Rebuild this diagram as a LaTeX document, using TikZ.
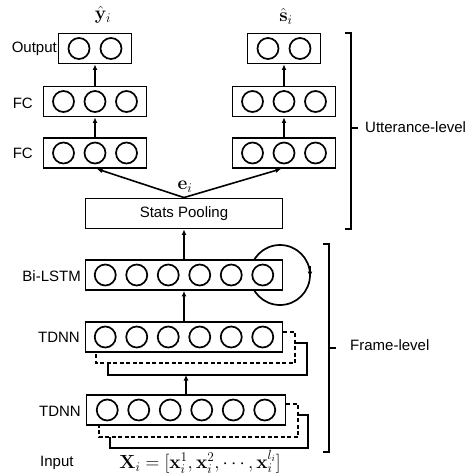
\RequirePackage{fix-cm}
\documentclass[tikz,border=0pt]{standalone}
\usepackage[no-math]{fontspec}
\newfontfamily\labfont{Liberation Sans}
\usetikzlibrary{arrows.meta,calc}
\begin{document}
\begin{tikzpicture}[x=1pt,y=-1pt,
  layer/.style={draw,fill=white,line width=1.9pt,minimum height=30pt,inner sep=0pt},
  neuron/.style={draw,circle,line width=1.7pt,minimum size=21pt,inner sep=0pt},
  arr/.style={line width=1.6pt,-{Latex[length=5.5pt,width=5pt]}},
  lab/.style={font=\labfont\fontsize{15}{18}\selectfont,inner sep=0pt},
  mlab/.style={font=\fontsize{19}{22}\selectfont,inner sep=0pt},
  brk/.style={line width=1.4pt},
  back/.style={line width=1.7pt},
  backd/.style={line width=1.7pt,dash pattern=on 4pt off 2.5pt}]
\useasboundingbox[fill=white] (0,0) rectangle (471,474);

% recurrent loop (drawn first, hidden by the box)
\coordinate (loopc) at (280,275);
\draw[back] (loopc) circle[radius=30pt];
\draw[arr] ($(loopc)+(30,-9)$) -- ($(loopc)+(30,2)$);

% back layers of the TDNN stacks
\draw[backd] (283,332) -- (295,332) -- (295,363) -- (96,363) -- (96,353);
\draw[back] (295,343) -- (307,343) -- (307,375) -- (108,375) -- (108,363);
\draw[backd] (286,404) -- (298,404) -- (298,437) -- (99,437) -- (99,426);
\draw[back] (298,415) -- (308,415) -- (308,448) -- (110,448) -- (110,437);
\coordinate (td1back) at (186,375);

% layers
\node[layer,minimum width=73pt] (outL) at (95,48.5) {};
\node[layer,minimum width=103pt] (fcL1) at (95,101.5) {};
\node[layer,minimum width=103pt] (fcL2) at (95,153) {};
\node[layer,minimum width=73pt] (outR) at (284,48.5) {};
\node[layer,minimum width=103pt] (fcR1) at (284,101.5) {};
\node[layer,minimum width=103pt] (fcR2) at (284,153) {};
\node[layer,minimum width=197pt,font=\labfont\fontsize{15}{18}\selectfont] (stats) at (184,213.5) {Stats Pooling};
\node[layer,minimum width=197pt] (lstm) at (184,275) {};
\node[layer,minimum width=197pt] (td1) at (184,337) {};
\node[layer,minimum width=199pt] (td2) at (186,410) {};

% neurons
\foreach \b in {outL,outR}
  \foreach \i in {1,2}
    \node[neuron] (\b-\i) at ($(\b.center)+({(\i-1.5)*32},0)$) {};
\foreach \b in {fcL1,fcL2,fcR1,fcR2}
  \foreach \i in {1,2,3}
    \node[neuron] (\b-\i) at ($(\b.center)+({(\i-2)*31.5},0)$) {};
\foreach \b in {lstm,td1,td2}
  \foreach \i in {1,...,6}
    \node[neuron] (\b-\i) at ($(\b.center)+({(\i-3.5)*31.5},0)$) {};

% connectors
\draw[arr] (fcL2.north) -- (fcL1.south);
\draw[arr] (fcL1.north) -- (outL.south);
\draw[arr] (fcR2.north) -- (fcR1.south);
\draw[arr] (fcR1.north) -- (outR.south);
\draw[arr] (stats.north) -- ($(fcL2.south)+(2,0)$);
\draw[arr] (stats.north) -- ($(fcR2.south)+(-3,0)$);
\draw[arr] (lstm.north) -- (stats.south);
\draw[arr] (td1.north) -- (lstm.south);
\draw[arr] (td2.north) -- (td2.north |- td1back);

% labels
\node[lab,anchor=east] (loutput) at (57,49) {Output};
\node[lab,anchor=east] (lfc1) at (33,103) {FC};
\node[lab,anchor=east] (lfc2) at (33,153) {FC};
\node[lab,anchor=east] (llstm) at (81,276) {Bi-LSTM};
\node[lab,anchor=east] (ltd1) at (80,337) {TDNN};
\node[lab,anchor=east] (ltd2) at (81,411) {TDNN};
\node[lab,anchor=west] (linput) at (40,463) {Input};
\node[mlab] (lx) at (200,462) {$\mathbf{X}_i=[\mathbf{x}_i^1,\mathbf{x}_i^2,\cdots,\mathbf{x}_i^{l_i}]$};
\node[mlab] (ly) at (103,15) {$\hat{\mathbf{y}}_i$};
\node[mlab] (ls) at (286,16) {$\hat{\mathbf{s}}_i$};
\node[mlab] (le) at (185,187) {$\mathbf{e}_i$};

% brackets
\draw[brk] (345,33) -- (351,33) -- (351,229) -- (345,229);
\draw[brk] (351,128) -- (358,128);
\node[lab,anchor=west] (lutt) at (365,127) {Utterance-level};
\draw[brk] (323,244) -- (329,244) -- (329,452) -- (323,452);
\draw[brk] (329,348) -- (336,348);
\node[lab,anchor=west] (lframe) at (350,345) {Frame-level};
\end{tikzpicture}
\end{document}
